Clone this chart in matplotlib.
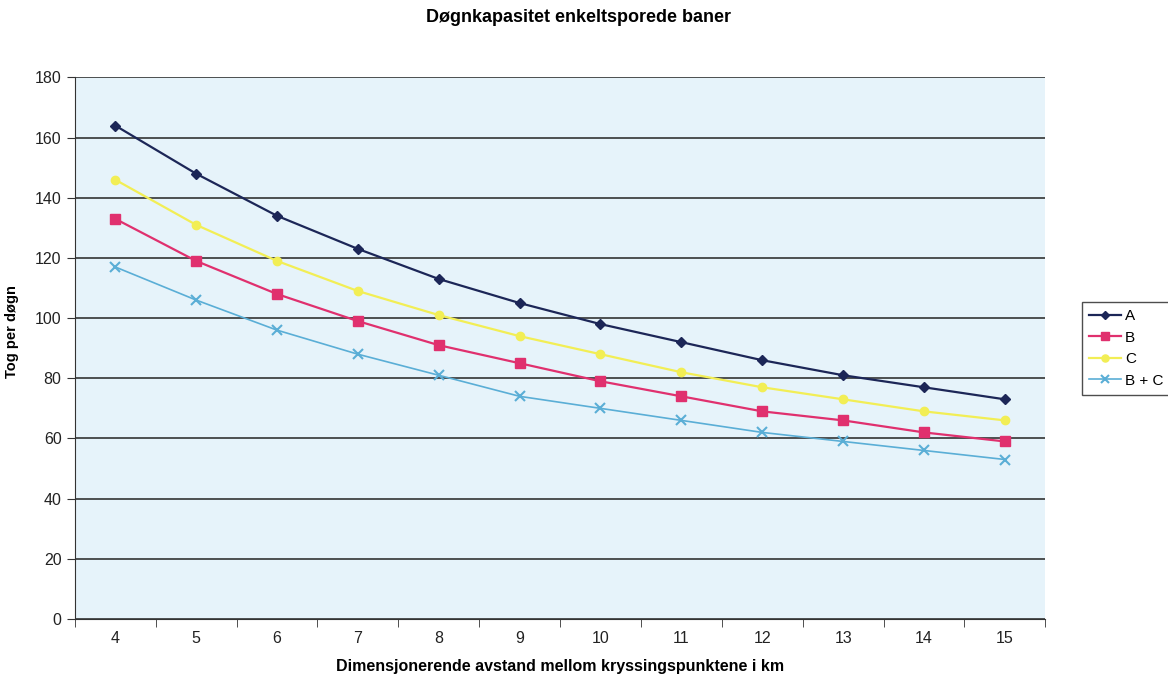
import matplotlib
matplotlib.use("Agg")
import matplotlib.pyplot as plt
import numpy as np

categories = ["4", "5", "6", "7", "8", "9", "10", "11", "12", "13", "14", "15"]
series_a = [164, 148, 134, 123, 113, 105, 98, 92, 86, 81, 77, 73]
series_b = [133, 119, 108, 99, 91, 85, 79, 74, 69, 66, 62, 59]
series_c = [146, 131, 119, 109, 101, 94, 88, 82, 77, 73, 69, 66]
series_bc = [117, 106, 96, 88, 81, 74, 70, 66, 62, 59, 56, 53]
labels = ["A", "B", "C", "B + C"]

plt.rcParams['font.family'] = ['Liberation Sans', 'DejaVu Sans']

fig = plt.figure(figsize=(11.68, 6.77), dpi=100)
ax = fig.add_axes([0.064, 0.0857, 0.831, 0.800])
ax.set_facecolor("#e6f3fa")

x = np.arange(len(categories))
ax.plot(x, series_a, color="#1c2657", marker="D", markersize=5, lw=1.6, label=labels[0], zorder=5)
ax.plot(x, series_b, color="#e0306e", marker="s", markersize=7, lw=1.6, label=labels[1], zorder=5)
ax.plot(x, series_c, color="#f2ee55", marker="o", markersize=6, lw=1.6, label=labels[2], zorder=5)
ax.plot(x, series_bc, color="#5aaed6", marker="x", markersize=7, mew=1.5, lw=1.2, label=labels[3], zorder=5)

ax.set_xlim(-0.5, len(categories) - 0.5)
ax.set_ylim(0, 180)
ax.set_yticks(np.arange(0, 181, 20))
ax.set_xticks(x)
ax.set_xticklabels(categories, fontsize=11.5)
ax.set_xticks(np.arange(-0.5, len(categories), 1), minor=True)
ax.tick_params(axis="x", which="major", length=0, pad=9, colors="#222222")
ax.tick_params(axis="x", which="minor", length=6, direction="out", color="#333333")
ax.tick_params(axis="y", length=6, direction="out", labelsize=11.5, color="#333333", labelcolor="#222222")

ax.grid(axis="y", color="#333333", lw=1.2, zorder=1)
ax.set_axisbelow(True)
for s in ["top", "right"]:
    ax.spines[s].set_visible(False)
ax.spines["left"].set_color("#333333")
ax.spines["bottom"].set_color("#333333")

ax.set_ylabel("Tog per døgn", fontsize=10.5, fontweight="bold")
ax.yaxis.set_label_coords(-0.057, 0.53)
ax.set_xlabel("Dimensjonerende avstand mellom kryssingspunktene i km", fontsize=11.5, fontweight="bold", labelpad=9)
fig.text(0.495, 1 - 18 / 677, "Døgnkapasitet enkeltsporede baner", fontsize=13, fontweight="bold",
         ha="center", va="center")

leg = ax.legend(loc="upper left", bbox_to_anchor=(1082 / 1168, 1 - 302 / 677),
                bbox_transform=fig.transFigure, frameon=True, fancybox=False,
                fontsize=11, handlelength=2.1, borderpad=0.45, labelspacing=0.5,
                handletextpad=0.25, borderaxespad=0, markerscale=0.85)
leg.get_frame().set_edgecolor("#222222")
leg.get_frame().set_linewidth(1.0)

fig.savefig("out.png", dpi=100)
